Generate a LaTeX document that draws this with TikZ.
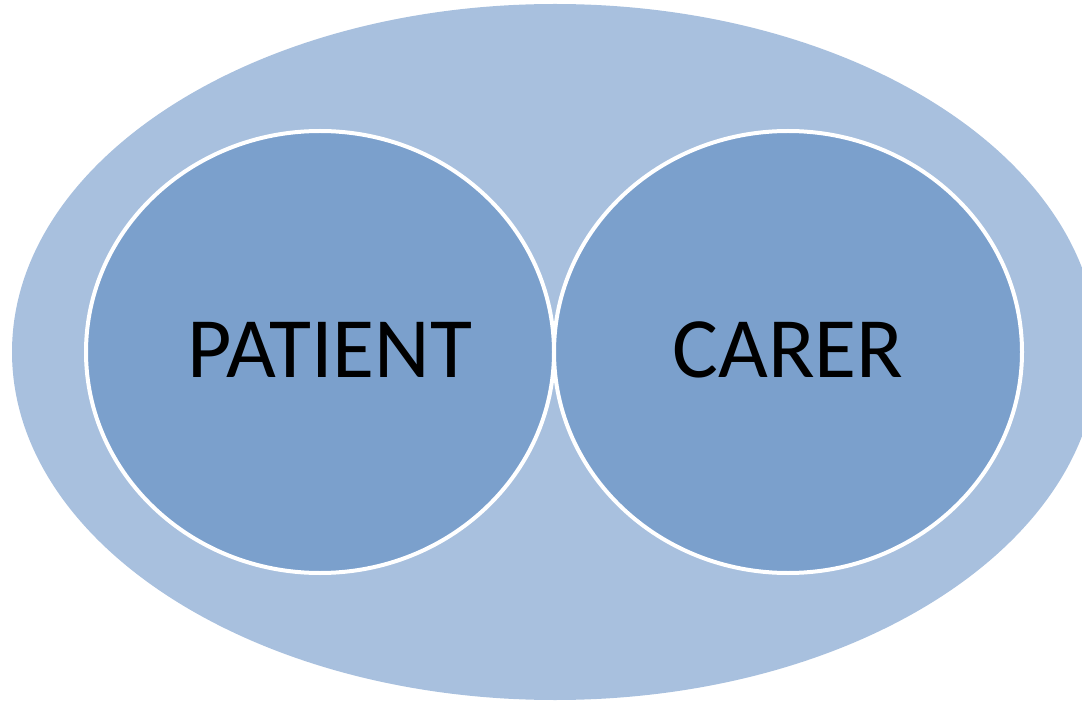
\documentclass[tikz,border=0pt]{standalone}
\usepackage{fontspec}
\setmainfont{Carlito}
\definecolor{outerblue}{HTML}{A8C0DE}
\definecolor{innerblue}{HTML}{7BA0CC}
\begin{document}
\begin{tikzpicture}[x=1pt,y=-1pt,
  circ/.style={ellipse, fill=innerblue, draw=white, line width=4pt, inner sep=0pt},
  lbl/.style={font=\fontsize{86}{90}\selectfont, text=black}]
\useasboundingbox (0,0) rectangle (1082,703);
\fill[outerblue] (555,352) ellipse [x radius=543, y radius=348];
\filldraw[fill=innerblue, draw=white, line width=4pt] (320,352) ellipse [x radius=234, y radius=221];
\filldraw[fill=innerblue, draw=white, line width=4pt] (788,352) ellipse [x radius=234, y radius=221];
\node[lbl] (patient) at (330,350) {PATIENT};
\node[lbl] (carer) at (788,350) {CARER};
\end{tikzpicture}
\end{document}
